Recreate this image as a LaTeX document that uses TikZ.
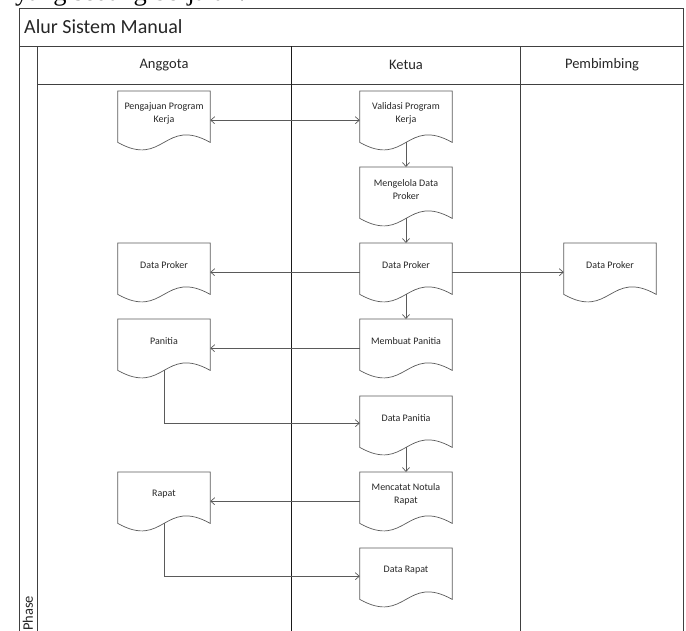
\documentclass[tikz,border=0pt]{standalone}
\usepackage{fontspec}
\setmainfont{Carlito}
\newfontfamily\serifx{Liberation Serif}
\usetikzlibrary{arrows.meta,calc}
\definecolor{frameln}{HTML}{404040}
\definecolor{laneln}{HTML}{1A1A1A}
\definecolor{docln}{HTML}{5A5A5A}
\definecolor{txt}{HTML}{262626}
\tikzset{
 docnode/.style={minimum width=92pt,minimum height=44pt,inner sep=0pt,anchor=north,align=center,font=\fontsize{10}{13}\selectfont,text=txt},
 docline/.style={draw=docln,line width=0.7pt},
 flow/.style={draw=docln,line width=0.7pt,-{Straight Barb[length=4pt,width=7pt]}},
 flowboth/.style={draw=docln,line width=0.7pt,{Straight Barb[length=4pt,width=7pt]}-{Straight Barb[length=4pt,width=7pt]}},
 frameline/.style={draw=frameln,line width=0.8pt},
 laneline/.style={draw=laneln,line width=0.8pt},
 lanehead/.style={font=\fontsize{14.5}{16}\selectfont,text=txt,inner sep=0pt}
}
\newcommand\docoutline[1]{\draw[docline] (#1.north west) -- (#1.north east) -- ([yshift=-7pt]#1.south east) .. controls ([yshift=19pt]#1.south) and ([yshift=-33pt]#1.south) .. ([yshift=-7pt]#1.south west) -- cycle;}
\begin{document}
\begin{tikzpicture}[x=1pt,y=-1pt]
\useasboundingbox (0,0) rectangle (686,630);
\begin{scope}
\clip (0,0) rectangle (686,630);
\node[anchor=base west,font=\serifx\fontsize{26.5}{30}\selectfont,inner sep=0pt] (cap) at (15,0.5) {yang sedang berjalan.};
% frame
\draw[frameline] (19,640) -- (19,8) -- (683,8) -- (683,640);
\draw[frameline] (19,46) -- (683,46);
\draw[frameline] (37,84) -- (683,84);
\draw[frameline] (37,46) -- (37,640);
\draw[laneline] (291,46) -- (291,640);
\draw[frameline] (520,46) -- (520,640);
\node[rotate=90,anchor=west,lanehead] (phase) at (28,631) {Phase};
\end{scope}
\node[anchor=west,font=\fontsize{20}{24}\selectfont,text=txt,inner sep=0pt] (title) at (24,27) {Alur Sistem Manual};
\node[lanehead] (hang) at (164,65) {Anggota};
\node[lanehead] (hket) at (406,65) {Ketua};
\node[lanehead] (hpem) at (602,65) {Pembimbing};
% documents
\node[docnode] (peng) at (164,91) {Pengajuan Program\\Kerja};
\node[docnode] (adp) at (164,243) {Data Proker};
\node[docnode] (panitia) at (164,319) {Panitia};
\node[docnode] (rapat) at (164,472) {Rapat};
\node[docnode] (valid) at (406,91) {Validasi Program\\Kerja};
\node[docnode] (meng) at (406,167) {Mengelola Data\\Proker};
\node[docnode] (kdp) at (406,243) {Data Proker};
\node[docnode] (membuat) at (406,319) {Membuat Panitia};
\node[docnode] (dpan) at (406,396) {Data Panitia};
\node[docnode] (mencatat) at (406,472) {Mencatat Notula\\Rapat};
\node[docnode] (drapat) at (406,548) {Data Rapat};
\node[docnode] (pdp) at (610,243) {Data Proker};
\foreach \n in {peng,adp,panitia,rapat,valid,meng,kdp,membuat,dpan,mencatat,drapat,pdp}{\docoutline{\n}}
% connectors
\draw[flowboth] ([yshift=-7pt]peng.east) -- ([yshift=-7pt]valid.west);
\draw[flow] ([yshift=-7pt]valid.south) -- (meng.north);
\draw[flow] ([yshift=-7pt]meng.south) -- (kdp.north);
\draw[flow] ([yshift=-7pt]kdp.west) -- ([yshift=-7pt]adp.east);
\draw[flow] ([yshift=-7pt]kdp.east) -- ([yshift=-7pt]pdp.west);
\draw[flow] ([yshift=-7pt]kdp.south) -- (membuat.north);
\draw[flow] ([yshift=-7pt]membuat.west) -- ([yshift=-7pt]panitia.east);
\draw[flow] ([yshift=-7pt]panitia.south) |- ([yshift=-5pt]dpan.west);
\draw[flow] ([yshift=-7pt]dpan.south) -- (mencatat.north);
\draw[flow] ([yshift=-7pt]mencatat.west) -- ([yshift=-7pt]rapat.east);
\draw[flow] ([yshift=-7pt]rapat.south) |- ([yshift=-6pt]drapat.west);
\end{tikzpicture}
\end{document}
